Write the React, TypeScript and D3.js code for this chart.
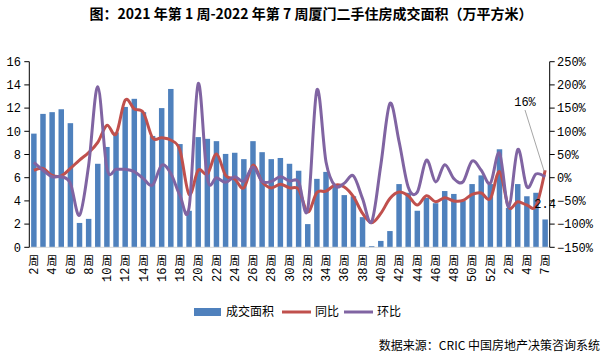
import React from "react";
import * as d3 from "d3";

const weeks: string[] = [
  "2周","3周","4周","5周","6周","7周","8周","9周","10周","11周","12周","13周","14周","15周","16周","17周","18周","19周","20周","21周",
  "22周","23周","24周","25周","26周","27周","28周","29周","30周","31周","32周","33周","34周","35周","36周","37周","38周","39周","40周","41周",
  "42周","43周","44周","45周","46周","47周","48周","49周","50周","51周","52周","1周","2周","3周","4周","6周","7周",
];

const area: number[] = [
  9.8, 11.5, 11.65, 11.9, 10.7, 2.1, 2.45, 7.2, 8.65, 9.9,
  12.1, 12.8, 11.65, 9.6, 12.0, 13.65, 8.9, 3.15, 9.5, 9.35,
  9.15, 8.05, 8.15, 7.6, 9.15, 8.2, 7.6, 7.7, 7.2, 6.6,
  2.0, 5.9, 6.5, 5.3, 4.5, 4.4, 2.6, 0.1, 0.55, 1.4,
  5.45, 4.7, 3.15, 4.25, 3.8, 4.85, 4.6, 4.0, 5.45, 6.2,
  5.45, 8.45, 3.4, 5.45, 4.4, 4.7, 2.4,
];

const yoy: number[] = [
  16, 20, 5, 4, 20, 38, 54, 76, 113, 94,
  167, 148, 140, 86, 86, 81, 59, -36, 16, 8,
  51, 5, -3, -22, 27, -9, -22, -14, -22, -25,
  -74, -32, -29, -16, -20, -41, -77, -97, -77, -45,
  -31, -39, -59, -39, -52, -43, -50, -49, -36, -33,
  -45, 13, -63, -52, -59, -61, 16,
];

const mom: number[] = [
  33, 16, 2, 2, -12, -81, 27, 196, 20, 18,
  18, 13, -2, -16, 27, 9, -38, -65, 203, -2,
  0, -10, 2, -8, 23, -8, -8, 2, -7, -9,
  -68, 189, 34, -18, -12, 4, -45, -95, 27, 160,
  78, -20, -31, 38, -9, 28, -2, -9, 36, 16,
  -12, 53, -63, 61, -20, 8, 2,
];

const leftTicks: number[] = [0, 2, 4, 6, 8, 10, 12, 14, 16];
const rightTicks: number[] = [-150, -100, -50, 0, 50, 100, 150, 200, 250];

const title = "图：2021 年第 1 周-2022 年第 7 周厦门二手住房成交面积（万平方米）";
const legendNames: string[] = ["成交面积", "同比", "环比"];
const source = "数据来源：CRIC 中国房地产决策咨询系统";

const C_BAR = "#4F81BD";
const C_YOY = "#C0504D";
const C_MOM = "#8064A2";

export default function App() {
  const W = 612, H = 360;
  const left = 29.3, right = 549.7, top = 61.7, bottom = 247.3;
  const x = d3.scaleBand<number>().domain(d3.range(weeks.length)).range([left, right]).paddingInner(0.4).paddingOuter(0.2);
  const yL = d3.scaleLinear().domain([0, 16]).range([bottom, top]);
  const yR = d3.scaleLinear().domain([-150, 250]).range([bottom, top]);
  const cx = (i: number) => (x(i) as number) + x.bandwidth() / 2;
  const line = d3.line<number>().x((_, i) => cx(i)).y((d) => yR(d)).curve(d3.curveCardinal.tension(0));
  const axisFont = "'Liberation Mono', monospace";
  const cjk = "'Noto Sans CJK SC', sans-serif";
  const last = weeks.length - 1;

  return (
    <svg width={W} height={H} style={{ position: "absolute", left: 0, top: 0, background: "#fff" }}>
      <text x={311} y={19} textAnchor="middle" fontFamily={cjk} fontWeight="bold" fontSize={14} style={{ whiteSpace: "pre" }}>{title}</text>

      {area.map((v, i) => (
        <rect key={i} x={x(i)} y={yL(v)} width={x.bandwidth()} height={bottom - yL(v)} fill={C_BAR} />
      ))}

      <line x1={left} x2={right} y1={bottom} y2={bottom} stroke="#D9D9D9" strokeWidth={1} />

      <path d={line(yoy) || ""} fill="none" stroke={C_YOY} strokeWidth={3} strokeLinejoin="round" />
      <path d={line(mom) || ""} fill="none" stroke={C_MOM} strokeWidth={3} strokeLinejoin="round" />

      {/* left axis */}
      <line x1={left} x2={left} y1={top} y2={bottom} stroke="#000" />
      {leftTicks.map((t) => (
        <g key={t}>
          <line x1={left - 5} x2={left} y1={yL(t)} y2={yL(t)} stroke="#000" />
          <text x={21} y={yL(t)} dy="0.35em" textAnchor="end" fontFamily={axisFont} fontSize={12}>{t}</text>
        </g>
      ))}

      {/* right axis */}
      <line x1={right} x2={right} y1={top} y2={bottom} stroke="#000" />
      {rightTicks.map((t) => (
        <g key={t}>
          <line x1={right} x2={right + 5} y1={yR(t)} y2={yR(t)} stroke="#000" />
          <text x={557} y={yR(t)} dy="0.35em" textAnchor="start" fontFamily={axisFont} fontSize={12}>{t < 0 ? "−" + Math.abs(t) : t}%</text>
        </g>
      ))}

      {/* x labels */}
      {weeks.map((w, i) => i % 2 === 0 ? (
        <g key={i}>
          <text x={cx(i)} y={265} textAnchor="middle" fontFamily={cjk} fontSize={11}>周</text>
          <text transform={`translate(${cx(i)},267.5) rotate(-90)`} textAnchor="end" dy="0.35em" fontFamily={axisFont} fontSize={12}>{w.replace("周", "")}</text>
        </g>
      ) : null)}

      {/* data labels */}
      <line x1={525} y1={110} x2={cx(last) - 1} y2={yR(yoy[last]) + 1} stroke="#A6A6A6" strokeWidth={1} />
      <text x={525} y={102} dy="0.35em" textAnchor="middle" fontFamily={axisFont} fontSize={12}>{yoy[last]}%</text>
      <text x={cx(last)} y={204} dy="0.35em" textAnchor="middle" fontFamily={axisFont} fontSize={12}>{area[last]}</text>

      {/* legend */}
      <rect x={194} y={308} width={27} height={8} fill={C_BAR} />
      <text x={226} y={312} dy="0.35em" fontFamily={cjk} fontSize={12}>{legendNames[0]}</text>
      <line x1={282} x2={311} y1={312} y2={312} stroke={C_YOY} strokeWidth={3} />
      <text x={315} y={312} dy="0.35em" fontFamily={cjk} fontSize={12}>{legendNames[1]}</text>
      <line x1={344} x2={373} y1={312} y2={312} stroke={C_MOM} strokeWidth={3} />
      <text x={377} y={312} dy="0.35em" fontFamily={cjk} fontSize={12}>{legendNames[2]}</text>

      <text x={600} y={346} dy="0.35em" textAnchor="end" fontFamily={cjk} fontSize={12}>{source}</text>
    </svg>
  );
}
